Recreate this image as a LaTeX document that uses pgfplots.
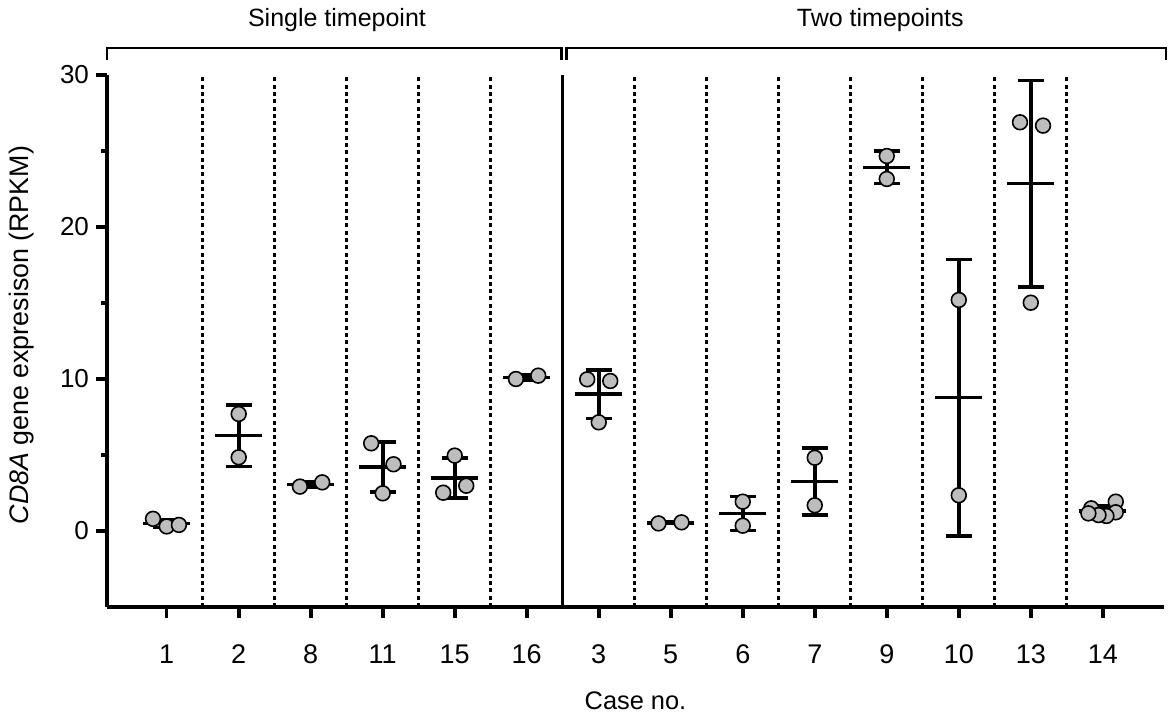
\documentclass[border=0pt]{standalone}
\usepackage{fontspec}
\setmainfont{Liberation Sans}
\usepackage{pgfplots}
\pgfplotsset{compat=1.18}
\usepackage{pgfplotstable}
\definecolor{dotgray}{RGB}{189,189,189}

\pgfplotstableread{
x y
-0.19 0.80
0.00 0.30
0.17 0.40
1.00 7.70
1.00 4.85
1.85 2.92
2.16 3.20
2.84 5.77
3.15 4.39
3.00 2.48
4.00 4.96
3.84 2.52
4.16 2.98
4.85 10.00
5.16 10.22
5.84 9.98
6.16 9.87
6.00 7.15
6.83 0.50
7.15 0.57
8.00 1.93
8.00 0.35
9.00 4.82
9.00 1.69
10.00 24.67
10.00 23.16
11.00 15.20
11.00 2.35
11.85 26.89
12.17 26.67
12.00 15.02
12.84 1.49
13.18 1.93
13.18 1.23
13.05 0.99
12.94 1.05
12.80 1.16
}\points

\pgfplotstableread{
x m s
0 0.50 0.26
1 6.27 2.02
2 3.06 0.20
3 4.21 1.65
4 3.49 1.30
5 10.11 0.16
6 9.00 1.60
7 0.535 0.05
8 1.14 1.12
9 3.26 2.21
10 23.92 1.07
11 8.78 9.09
12 22.86 6.79
13 1.31 0.35
}\summary

\begin{document}
\begin{tikzpicture}
\path[use as bounding box] (-53.5pt,-55.5pt) rectangle (530.5pt,303.5pt);
\begin{axis}[
  at={(0,0)}, anchor=south west,
  scale only axis, width=528.5pt, height=266pt,
  xmin=-0.829, xmax=13.85, ymin=-5, ymax=30,
  axis x line*=bottom, axis y line*=left,
  axis line style={line width=1.8pt, black},
  tick align=outside, tick pos=left,
  major tick length=5.5pt, minor tick length=3pt,
  tick style={black, line width=1.8pt},
  xtick={0,...,13}, xticklabels={1,2,8,11,15,16,3,5,6,7,9,10,13,14},
  ytick={0,10,20,30}, minor ytick={5,15,25},
  /pgf/number format/assume math mode=true,
  yticklabel style={font=\fontsize{13}{15}\selectfont},
  xticklabel style={font=\fontsize{13.5}{16}\selectfont, yshift=-10pt},
  xlabel={Case no.}, ylabel={\textit{CD8A} gene expresison (RPKM)},
  every axis x label/.style={at={(axis description cs:0.5,-0.177)}, anchor=center, font=\fontsize{12.7}{15}\selectfont},
  every axis y label/.style={at={(axis description cs:-0.0807,0.511)}, anchor=center, rotate=90, font=\fontsize{13.4}{16}\selectfont},
  clip=false,
]
\pgfplotsinvokeforeach{0.5,1.5,2.5,3.5,4.5,6.5,7.5,8.5,9.5,10.5,11.5,12.5}{
  \draw[black, line width=1.6pt, dash pattern=on 2pt off 1.65pt] (axis cs:#1,-5) -- (axis cs:#1,30);
}
\draw[black, line width=1.6pt] (axis cs:5.5,-5) -- (axis cs:5.5,30);

\addplot[only marks, mark=-, mark size=11.75pt, mark options={line width=1.8pt, black},
  error bars/.cd, y dir=both, y explicit, error mark=-,
  error mark options={rotate=90, mark size=6.6pt, line width=1.8pt, black},
  error bar style={line width=1.8pt, black}]
  table[x=x, y=m, y error=s] {\summary};

\addplot[only marks, mark=*, mark size=3.7pt,
  mark options={fill=dotgray, draw=black, line width=0.8pt}]
  table[x=x, y=y] {\points};

\draw[black, line width=1.3pt] (axis cs:-0.829,31.0) -- (axis cs:-0.829,31.78) -- (axis cs:5.48,31.78) -- (axis cs:5.48,31.0);
\draw[black, line width=1.3pt] (axis cs:5.55,31.0) -- (axis cs:5.55,31.78) -- (axis cs:13.88,31.78) -- (axis cs:13.88,31.0);
\node[anchor=base, font=\fontsize{12.5}{15}\selectfont] at (axis cs:2.365,33.16) {Single timepoint};
\node[anchor=base, font=\fontsize{12.5}{15}\selectfont] at (axis cs:9.91,33.16) {Two timepoints};
\end{axis}
\end{tikzpicture}
\end{document}
